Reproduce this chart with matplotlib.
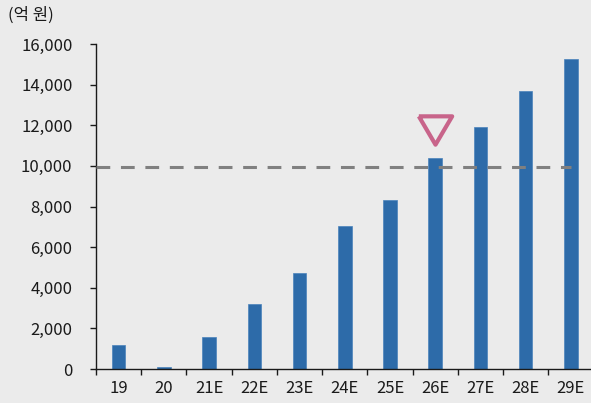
import numpy as np
import matplotlib
matplotlib.use('Agg')
from matplotlib import pyplot as plt

plt.rcParams['font.family'] = ['Noto Sans CJK KR', 'DejaVu Sans']

# data
years = ['19', '20', '21E', '22E', '23E', '24E', '25E', '26E', '27E', '28E', '29E']
values = [1180, 110, 1590, 3200, 4750, 7050, 8300, 10370, 11900, 13700, 15250]
ref_level = 9960        # dashed reference line
marker_year = '26E'
marker_value = 11750    # triangle above the 26E bar
yticks = [0, 2000, 4000, 6000, 8000, 10000, 12000, 14000, 16000]
unit_label = '(억 원)'

bg = '#EBEBEB'
bar_color = '#2D6BA9'
txt = '#1a1a1a'
fs = 12

fig = plt.figure(figsize=(5.91, 4.03), dpi=100, facecolor=bg)
ax = fig.add_axes([96 / 591, 1 - 369 / 403, 497.5 / 591, 325 / 403])
ax.set_facecolor(bg)

x = np.arange(len(years))
ax.bar(x, values, width=0.3, color=bar_color, edgecolor='#4A82BC', linewidth=0.5, zorder=2)

# dashed line from left axis to last bar centre
ax.plot([-0.5, x[-1]], [ref_level, ref_level], color='#808080', lw=2.2,
        dashes=(4.5, 3.5), zorder=3)

tri = [(-1, 0.85), (1, 0.85), (0, -0.85), (-1, 0.85)]
ax.plot(years.index(marker_year), marker_value, marker=tri, markersize=24,
        markerfacecolor='none', markeredgecolor='#C8648A', markeredgewidth=3,
        linestyle='none', zorder=4)

ax.set_xlim(-0.5, len(years) - 0.5)
ax.set_ylim(0, 16000)
ax.set_yticks(yticks)
ax.set_yticklabels([f'{v:,}' for v in yticks])
ax.set_xticks(x)
ax.set_xticklabels(years)
ax.set_xticks(np.arange(len(years)) - 0.5, minor=True)

for s in ['top', 'right']:
    ax.spines[s].set_visible(False)
for s in ['left', 'bottom']:
    ax.spines[s].set_color(txt)
    ax.spines[s].set_linewidth(1.0)

ax.tick_params(axis='y', direction='out', length=4, width=1, color=txt,
               labelsize=fs, labelcolor=txt, pad=13)
ax.tick_params(axis='x', which='major', length=0, labelsize=fs,
               labelcolor=txt, pad=8)
ax.tick_params(axis='x', which='minor', direction='out', length=4, width=1, color=txt)

fig.text(8 / 591, 1 - 15 / 403, unit_label, fontsize=fs, color=txt,
         ha='left', va='center')

fig.savefig('out.png', dpi=100, facecolor=bg)
